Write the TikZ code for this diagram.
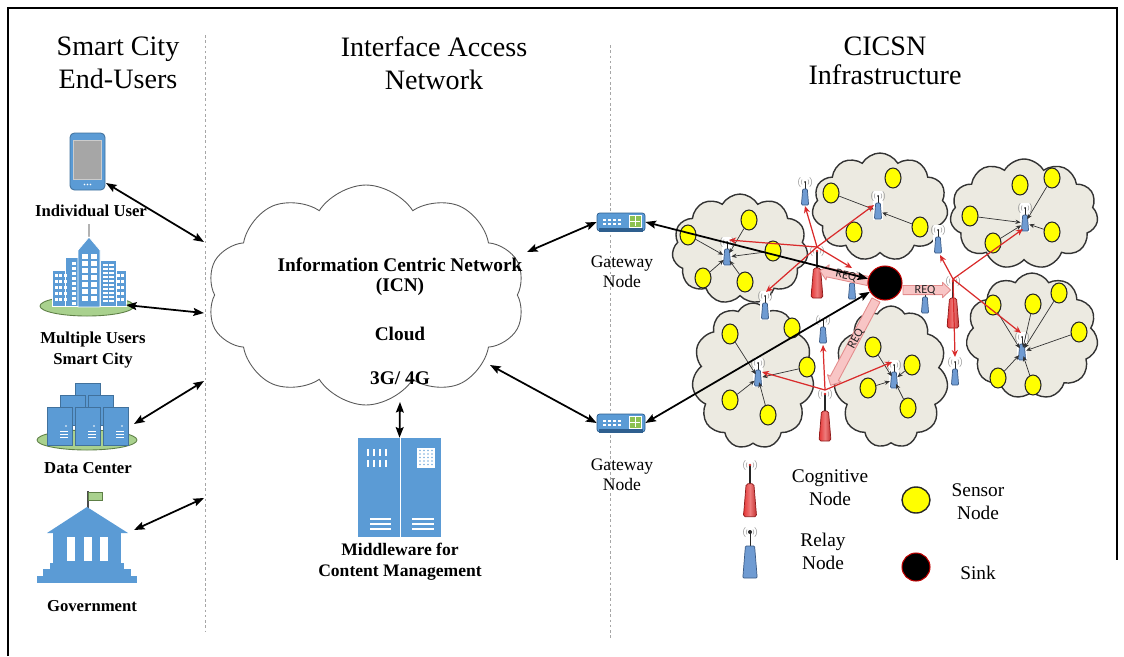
\documentclass[tikz,border=0pt]{standalone}
\usepackage{fontspec}
\setmainfont{Liberation Serif}
\newfontfamily\reqfont{Carlito}
\usetikzlibrary{arrows.meta,shapes.symbols,shapes.geometric}

\definecolor{iconblue}{HTML}{5B9BD5}
\definecolor{iconedge}{HTML}{41719C}
\definecolor{icondark}{HTML}{2E5F8F}
\definecolor{grassgreen}{HTML}{A9D18E}
\definecolor{grassedge}{HTML}{5E7F46}
\definecolor{cloudfill}{HTML}{ECEAE1}
\definecolor{sensoryellow}{HTML}{FFFF00}
\definecolor{cogred}{HTML}{E53535}
\definecolor{cogedge}{HTML}{8E1A1A}
\definecolor{relayblue}{HTML}{6F9BD2}
\definecolor{relayedge}{HTML}{3A5A85}
\definecolor{linkred}{HTML}{D92B2B}
\definecolor{reqfill}{HTML}{F8C5C5}
\definecolor{reqedge}{HTML}{E38C8C}
\definecolor{screengray}{HTML}{A6A6A6}
\definecolor{gatewaygreen}{HTML}{8CC152}

\tikzset{
  radio/.pic={
    \draw[gray!70, line width=0.35pt]
      (0,0) ++(140:2.2pt) arc[start angle=140,end angle=220,radius=2.2pt]
      (0,0) ++(135:3.8pt) arc[start angle=135,end angle=225,radius=3.8pt]
      (0,0) ++(-40:2.2pt) arc[start angle=-40,end angle=40,radius=2.2pt]
      (0,0) ++(-45:3.8pt) arc[start angle=-45,end angle=45,radius=3.8pt];
  },
  relay/.pic={
    \fill[white] (-5,-5) rectangle (5,24);
    \pic {radio};
    \draw[black!85, line width=0.5pt] (0,0) -- (0,8);
    \fill[black!85] (0,0) circle (1);
    \draw[fill=relayblue, draw=relayedge, line width=0.4pt, rounded corners=0.6pt]
      (-2.3,7) -- (2.3,7) -- (3.6,23) -- (-3.6,23) -- cycle;
  },
  cognitive/.pic={
    \fill[white] (-8,-6) rectangle (8,48);
    \pic {radio};
    \draw[black!85, line width=0.6pt] (0,0) -- (0,18);
    \fill[linkred] (0,0) circle (1.3);
    \draw[draw=cogedge, line width=0.4pt, rounded corners=1pt,
          left color=cogred, right color=cogred!85!black, middle color=cogred!65!white]
      (-3.5,17) -- (3.5,17) -- (6,47) -- (-6,47) -- cycle;
  },
  gateway/.pic={
    \draw[fill=iconblue, draw=icondark, line width=0.4pt, rounded corners=1.5pt] (-24,-9) rectangle (24,9);
    \fill[icondark] (-22,6) rectangle (22,9.5);
    \foreach \gx in {-18,-13,-8,-3} \foreach \gy in {-3,1}
      \fill[white] (\gx,\gy) rectangle ++(2.5,2);
    \draw[fill=gatewaygreen, draw=white, line width=0.4pt] (8,-7) rectangle (20,5);
    \draw[white, line width=0.3pt] (14,-6) -- (14,4) (9,-1) -- (19,-1);
  },
}

\begin{document}
\begin{tikzpicture}[x=0.02cm, y=-0.02cm,
  every node/.style={inner sep=0pt},
  headtext/.style={font=\fontsize{16}{19}\selectfont, align=center},
  boldlabel/.style={font=\bfseries\fontsize{9.5}{11.5}\selectfont, align=center},
  icntext/.style={font=\bfseries\fontsize{11}{13}\selectfont},
  netlabel/.style={font=\fontsize{10}{11.5}\selectfont, align=center},
  legendtext/.style={font=\fontsize{11}{13}\selectfont, align=center},
  divider/.style={gray!70, line width=0.5pt, dash pattern=on 1.5pt off 1.5pt},
  link/.style={line width=1pt, {Stealth[length=6pt,width=4.5pt,inset=1pt]}-{Stealth[length=6pt,width=4.5pt,inset=1pt]}},
  netcloud/.style={cloud, cloud puffs=11, cloud puff arc=120, cloud ignores aspect,
                   draw=black!80, fill=cloudfill, line width=0.8pt},
  sensor/.style={ellipse, draw=black!85, fill=sensoryellow, line width=0.6pt,
                 minimum width=0.32cm, minimum height=0.4cm},
  sarrow/.style={black!80, line width=0.4pt, -{Stealth[length=3pt,width=2.5pt]}, shorten >=2.5pt},
  rarrow/.style={linkred, line width=0.7pt, -{Stealth[length=4pt,width=3.5pt]}},
  reqbody/.style={draw=reqedge, fill=reqfill, line width=0.5pt, line join=round},
  reqtext/.style={font=\reqfont\fontsize{7}{7}\selectfont, text=black!85},
]
\useasboundingbox (0,0) rectangle (1124,656);

% frame and column dividers
\draw[black, line width=0.8pt] (8,656) -- (8,8) -- (1117,8) -- (1117,560);
\draw[divider] (205,35) -- (205,632);
\draw[divider] (610,45) -- (610,640);

% column headings
\node[headtext] (head1) at (118,63) {Smart City\\End-Users};
\node[headtext] (head2) at (434,63) {Interface Access\\Network};
\node[headtext] (head3) at (885,61) {CICSN\\[-2.5pt]Infrastructure};

% ---------------- end users ----------------
% smartphone
\draw[fill=iconblue, draw=iconedge, line width=0.5pt, rounded corners=2.5pt] (70,133) rectangle (105,190);
\draw[fill=screengray, draw=gray!40, line width=0.4pt] (73.5,140) rectangle (101.5,179);
\foreach \dx in {-3,0,3} \fill[white] (87.5+\dx,184.5) circle (0.9);
\coordinate (phoneE) at (106,183);
\node[boldlabel] (lblphone) at (91,211) {Individual User};

% city
\draw[fill=grassgreen, draw=grassedge, line width=0.5pt] (87,306) ellipse [x radius=47, y radius=10];
\draw[gray!60, line width=0.6pt] (89,237) -- (89,224);
\begin{scope}[fill=iconblue, draw=white, line width=0.5pt]
  \filldraw (52,270) rectangle (68,306);
  \filldraw (65,257) rectangle (80,306);
  \filldraw (114,270) rectangle (126,306);
  \filldraw (100,260) rectangle (116,306);
  \filldraw (78,307) -- (78,250) -- (89,237) -- (100,250) -- (100,307) -- cycle;
\end{scope}
\foreach \wy in {274,280,...,298} \foreach \wx in {54.5,59,63.5} \fill[white] (\wx,\wy) rectangle ++(3,3);
\foreach \wy in {262,267,...,302} \fill[white] (71.5,\wy) rectangle ++(4,2.5);
\foreach \wy in {254,261,...,296} {\fill[white] (81.5,\wy) rectangle ++(6,5); \fill[white] (90.5,\wy) rectangle ++(6,5);}
\foreach \wy in {264,268,...,300} {\fill[white] (103,\wy) rectangle ++(4.5,2); \fill[white] (109,\wy) rectangle ++(4.5,2);}
\foreach \wy in {274,280,...,298} {\fill[white] (116.5,\wy) rectangle ++(3,3); \fill[white] (121,\wy) rectangle ++(3,3);}
\coordinate (cityE) at (126,305);
\node[boldlabel] (lblcity) at (93,350) {Multiple Users\\Smart City};

% data centre
\draw[fill=grassgreen, draw=grassedge, line width=0.5pt] (87,440) ellipse [x radius=50, y radius=10];
\begin{scope}[fill=iconblue, draw=iconedge, line width=0.5pt]
  \filldraw (75,383) rectangle (100,420);
  \filldraw (60,395) rectangle (85,425);
  \filldraw (88,395) rectangle (113,425);
  \foreach \sx in {47,75,103} {
    \filldraw (\sx,407) rectangle ++(25,38);
    \fill[white] (\sx+19,426) circle (0.9);
    \foreach \ly in {431,434,437} \draw[white, line width=0.5pt] (\sx+13,\ly) -- ++(8,0);
  }
\end{scope}
\coordinate (dataE) at (134,424);
\node[boldlabel] (lbldata) at (88,468) {Data Center};

% government building
\draw[black!70, line width=0.6pt] (88,508) -- (88,491);
\filldraw[fill=grassgreen, draw=grassedge, line width=0.3pt] (88.5,492) rectangle (102,500);
\fill[iconblue] (87,507) -- (128,533) -- (47,533) -- cycle;
\fill[iconblue] (53,532) rectangle (121,564);
\fill[iconblue] (50,563) rectangle (124,569);
\fill[iconblue] (43,568.5) rectangle (131,576);
\fill[iconblue] (37,575.5) rectangle (137,583);
\foreach \cx in {67,83.5,100} \fill[white] (\cx,537) rectangle ++(8,24);
\coordinate (govE) at (134,530);
\node[boldlabel] (lblgov) at (92,606) {Government};

% connections to the access network
\coordinate (d1) at (204,242);
\coordinate (d2) at (204,313);
\coordinate (d3) at (204,381);
\coordinate (d4) at (204,498);
\draw[link] (phoneE) -- (d1);
\draw[link] (cityE) -- (d2);
\draw[link] (dataE) -- (d3);
\draw[link] (govE) -- (d4);

% ---------------- access network ----------------
\node[cloud, cloud puffs=10, cloud puff arc=115, cloud ignores aspect, draw=black!65, fill=white,
      line width=0.5pt, minimum width=6.36cm, minimum height=4.4cm] (icn) at (366,295) {};
\node[icntext] (icn1) at (400,265) {Information Centric Network};
\node[icntext] (icn2) at (400,287) {(ICN)};
\node[icntext] (icn3) at (400,334) {Cloud};
\node[icntext] (icn4) at (400,378) {3G/ 4G};

% middleware server
\node[minimum width=1.66cm, minimum height=1.98cm] (mw) at (399.5,487.5) {};
\fill[iconblue] (358,438) rectangle (399.5,537);
\fill[iconblue] (400.5,438) rectangle (441,537);
\foreach \tx in {367,373,379,385} {\fill[white] (\tx,449) rectangle ++(1.8,7); \fill[white] (\tx,460) rectangle ++(1.8,7);}
\fill[white] (417,448) rectangle (435,468);
\foreach \ux in {420,424,428,432} \foreach \uy in {450.5,454,457.5,461,464.5} \fill[iconblue!80] (\ux,\uy) circle (0.9);
\foreach \ly in {519,524,529} {\draw[white, line width=0.8pt] (370,\ly) -- (391,\ly); \draw[white, line width=0.8pt] (412,\ly) -- (434,\ly);}
\node[boldlabel, font=\bfseries\fontsize{10}{12}\selectfont] (lblmw) at (400,562) {Middleware for\\Content Management};
\coordinate (icnS) at (400,402);
\draw[link] (icnS) -- (mw.north);

% gateways
\node[minimum width=0.96cm, minimum height=0.38cm] (gw1) at (621,222) {};
\pic at (621,222) {gateway};
\node[netlabel] (lblgw1) at (622,272) {Gateway\\Node};
\node[minimum width=0.96cm, minimum height=0.38cm] (gw2) at (621,423) {};
\pic at (621,423) {gateway};
\node[netlabel] (lblgw2) at (622,475) {Gateway\\Node};
\coordinate (icnGw1) at (527,252);
\coordinate (icnGw2) at (490,365);
\draw[link] (icnGw1) -- (gw1.west);
\draw[link] (icnGw2) -- (gw2.west);

% ---------------- CICSN infrastructure ----------------
\node[netcloud, minimum width=2.72cm, minimum height=2.2cm]  (cA) at (740,249) {};
\node[netcloud, minimum width=2.72cm, minimum height=2.16cm] (cB) at (880,207) {};
\node[netcloud, minimum width=2.96cm, minimum height=2.2cm]  (cC) at (1024,214) {};
\node[netcloud, minimum width=2.64cm, minimum height=2.52cm] (cD) at (1032,336) {};
\node[netcloud, minimum width=2.44cm, minimum height=2.92cm] (cE) at (753,376) {};
\node[netcloud, minimum width=2.28cm, minimum height=2.84cm] (cF) at (891,377) {};

% sensor nodes
\node[sensor] (sA1) at (688,235) {};
\node[sensor] (sA2) at (749,220) {};
\node[sensor] (sA3) at (773,251) {};
\node[sensor] (sA4) at (703,278) {};
\node[sensor] (sA5) at (745,282) {};
\node[sensor] (sB1) at (831,193) {};
\node[sensor] (sB2) at (893,178) {};
\node[sensor] (sB3) at (854,232) {};
\node[sensor] (sB4) at (920,227) {};
\node[sensor] (sC1) at (1020,185) {};
\node[sensor] (sC2) at (1052,178) {};
\node[sensor] (sC3) at (970,216) {};
\node[sensor] (sC4) at (993,243) {};
\node[sensor] (sC5) at (1052,232) {};
\node[sensor] (sD1) at (993,305) {};
\node[sensor] (sD2) at (1033,304) {};
\node[sensor] (sD3) at (1059,293) {};
\node[sensor] (sD4) at (1079,332) {};
\node[sensor] (sD5) at (998,378) {};
\node[sensor] (sD6) at (1033,385) {};
\node[sensor] (sE1) at (730,334) {};
\node[sensor] (sE2) at (792,328) {};
\node[sensor] (sE3) at (807,367) {};
\node[sensor] (sE4) at (730,400) {};
\node[sensor] (sE5) at (768,415) {};
\node[sensor] (sF1) at (873,347) {};
\node[sensor] (sF2) at (912,365) {};
\node[sensor] (sF3) at (868,388) {};
\node[sensor] (sF4) at (908,408) {};

% relay and cognitive nodes (placed by antenna tip)
\pic at (727,242) {relay};
\pic at (878,196) {relay};
\pic at (1025,208) {relay};
\pic at (1022,337) {relay};
\pic at (758,363) {relay};
\pic at (894,365) {relay};
\pic at (805,182) {relay};
\pic at (852,276) {relay};
\pic at (938,230) {relay};
\pic at (925,290) {relay};
\pic at (765,296) {relay};
\pic at (823,320) {relay};
\pic at (955,362) {relay};
\pic at (817,251) {cognitive};
\pic at (953,281) {cognitive};
\pic at (825,394) {cognitive};

% cluster-head relay bodies
\coordinate (rA) at (727,257);
\coordinate (rB) at (878,211);
\coordinate (rC) at (1025,223);
\coordinate (rD) at (1022,352);
\coordinate (rE) at (758,378);
\coordinate (rF) at (894,380);

% sensor to relay links
\foreach \s in {sA1,sA2,sA3,sA4,sA5} \draw[sarrow] (\s) -- (rA);
\foreach \s in {sB1,sB4} \draw[sarrow] (\s) -- (rB);
\foreach \s in {sC2,sC3,sC4,sC5} \draw[sarrow] (\s) -- (rC);
\foreach \s in {sD1,sD2,sD3,sD4,sD5,sD6} \draw[sarrow] (\s) -- (rD);
\foreach \s in {sE1,sE3,sE4,sE5} \draw[sarrow] (\s) -- (rE);
\foreach \s in {sF1,sF2,sF3,sF4} \draw[sarrow] (\s) -- (rF);

% cognitive node forwarding links
\coordinate (h1) at (817,247);
\coordinate (h2) at (953,279);
\coordinate (h3) at (825,390);
\coordinate (tR1) at (805,206);
\coordinate (tA) at (729,240);
\coordinate (tR5) at (766,292);
\coordinate (tB) at (874,205);
\coordinate (tSink) at (852,268);
\coordinate (tR3) at (940,255);
\coordinate (tC) at (1023,229);
\coordinate (tD) at (1021,333);
\coordinate (tR7) at (955,357);
\coordinate (tR6) at (823,345);
\coordinate (tE) at (762,372);
\coordinate (tF) at (892,362);
\foreach \t in {tR1,tA,tR5,tB,tSink} \draw[rarrow] (h1) -- (\t);
\foreach \t in {tR3,tC,tD,tR7} \draw[rarrow] (h2) -- (\t);
\foreach \t in {tR6,tE,tF} \draw[rarrow] (h3) -- (\t);

% requests issued by the sink (broad arrows, drawn from the sink outwards)
\draw[reqbody, shift={(868,281)}, rotate=168]
  (0,-2.6pt) -- (23.5pt,-2.6pt) -- (23.5pt,-4.4pt) -- (28pt,0) -- (23.5pt,4.4pt) -- (23.5pt,2.6pt) -- (0,2.6pt) -- cycle;
\draw[reqbody, shift={(903,290)}]
  (0,-2.6pt) -- (22.5pt,-2.6pt) -- (22.5pt,-4.4pt) -- (27pt,0) -- (22.5pt,4.4pt) -- (22.5pt,2.6pt) -- (0,2.6pt) -- cycle;
\draw[reqbody, shift={(876,300)}, rotate=-118]
  (0,-2.6pt) -- (50.5pt,-2.6pt) -- (50.5pt,-4.4pt) -- (55pt,0) -- (50.5pt,4.4pt) -- (50.5pt,2.6pt) -- (0,2.6pt) -- cycle;
\node[reqtext, rotate=-12] (req1) at (846,276) {REQ};
\node[reqtext] (req2) at (925,290) {REQ};
\node[reqtext, rotate=62] (req3) at (856,339) {REQ};

% sink
\node[circle, fill=black, draw=red!75!black, line width=0.6pt, minimum size=0.68cm] (sink) at (885,283) {};
\draw[link] (gw1.east) -- (sink);
\draw[link] (gw2.east) -- (sink);

% ---------------- legend ----------------
\pic[scale=1.1] at (750,465) {cognitive};
\node[legendtext] (lgcog) at (830,488) {Cognitive\\Node};
\pic[scale=2] at (750,532) {relay};
\node[legendtext] (lgrelay) at (823,551) {Relay\\Node};
\node[sensor, minimum width=0.56cm, minimum height=0.52cm, line width=0.8pt] (lgsensor) at (916,500) {};
\node[legendtext] (lgsensortxt) at (978,502) {Sensor\\Node};
\node[circle, fill=black, draw=red!75!black, line width=0.6pt, minimum size=0.56cm] (lgsink) at (916,567) {};
\node[legendtext] (lgsinktxt) at (978,573) {Sink};
\end{tikzpicture}
\end{document}
